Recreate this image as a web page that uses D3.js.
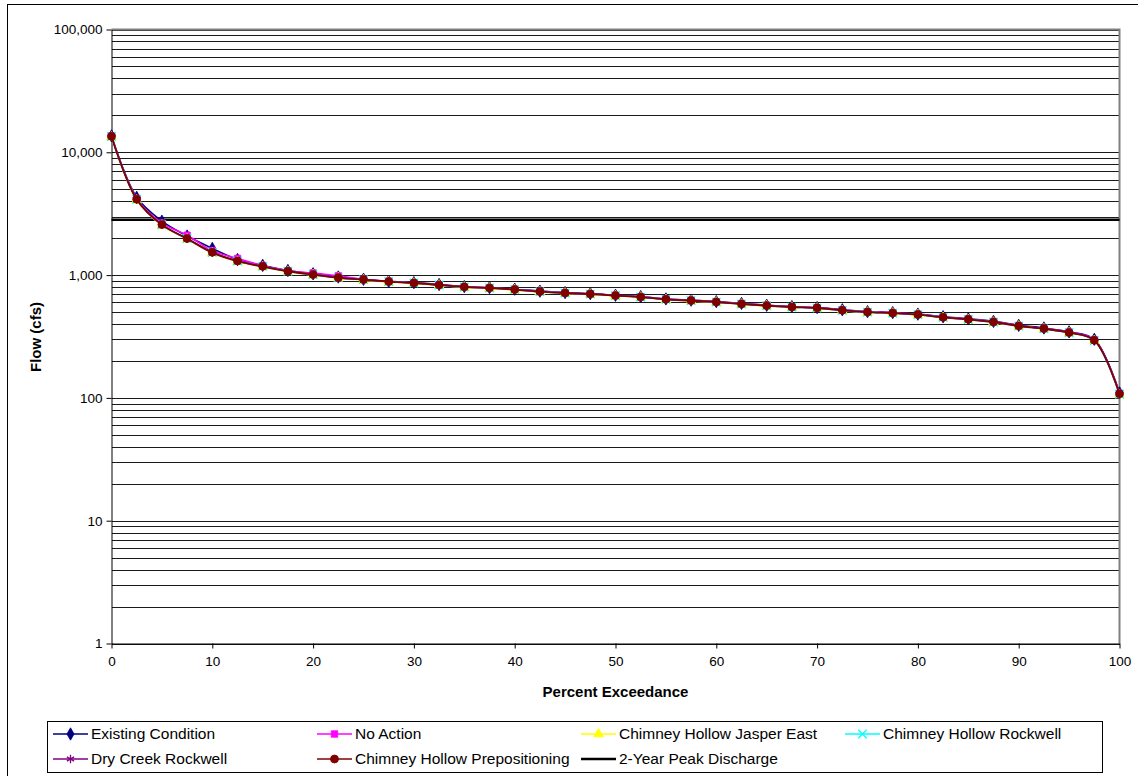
<!DOCTYPE html>
<html>
<head>
<meta charset="utf-8">
<script src="https://cdn.jsdelivr.net/npm/d3@7"></script>
<style>
  body { margin: 0; background: #fff; }
  svg { display: block; font-family: "Liberation Sans", Arial, sans-serif; }
</style>
</head>
<body>
<div id="holder"></div>
<script>
const w = 1138;
const h = 776;

// DATA
const percent = [0, 2.5, 5, 7.5, 10, 12.5, 15, 17.5, 20, 22.5, 25, 27.5, 30, 32.5, 35, 37.5, 40, 42.5, 45, 47.5,
    50, 52.5, 55, 57.5, 60, 62.5, 65, 67.5, 70, 72.5, 75, 77.5, 80, 82.5, 85, 87.5, 90, 92.5, 95, 97.5, 100];

const existingCondition = [13600, 4300, 2750, 2080, 1650, 1340, 1200, 1090, 1025, 965, 925, 890, 868, 838, 806, 790, 768, 740, 720, 706,
    685, 668, 640, 625, 608, 588, 568, 554, 544, 522, 504, 495, 481, 458, 440, 420, 390, 371, 345, 300, 110];
const noAction = [13550, 4200, 2650, 2110, 1580, 1365, 1195, 1085, 1040, 985, 925, 890, 866, 835, 804, 789, 766, 737, 718, 705,
    684, 666, 638, 623, 607, 586, 567, 553, 543, 520, 503, 494, 480, 456, 439, 418, 388, 369, 343, 297, 109];
const jasperEast = [13300, 4080, 2540, 1960, 1510, 1285, 1165, 1065, 1000, 945, 910, 878, 855, 824, 795, 780, 757, 728, 710, 697,
    676, 658, 630, 615, 600, 578, 560, 546, 536, 513, 497, 488, 474, 450, 433, 412, 383, 364, 338, 292, 106];
const chRockwell = [13450, 4140, 2570, 1985, 1530, 1300, 1178, 1075, 1010, 953, 918, 885, 862, 830, 800, 785, 762, 733, 714, 701,
    680, 662, 634, 619, 603, 581, 563, 549, 539, 516, 499, 490, 476, 452, 435, 414, 384, 365, 339, 293, 107];
const dryCreekRockwell = [13400, 4120, 2560, 1975, 1520, 1295, 1172, 1072, 1006, 950, 916, 884, 861, 829, 799, 784, 761, 732, 713, 700,
    679, 661, 633, 618, 602, 580, 562, 548, 538, 515, 498, 489, 475, 451, 434, 413, 384, 365, 339, 294, 107];
const chPrepositioning = [13500, 4150, 2580, 1990, 1535, 1305, 1180, 1077, 1012, 955, 920, 887, 864, 832, 802, 787, 764, 735, 716, 703,
    682, 664, 636, 621, 605, 583, 565, 551, 541, 518, 501, 492, 478, 454, 437, 416, 386, 367, 341, 295, 108];

const peakDischarge = 2820;

const seriesNames = ["Existing Condition", "No Action", "Chimney Hollow Jasper East", "Chimney Hollow Rockwell",
    "Dry Creek Rockwell", "Chimney Hollow Prepositioning"];
const seriesValues = [existingCondition, noAction, jasperEast, chRockwell, dryCreekRockwell, chPrepositioning];
const seriesColors = ["#000080", "#ff00ff", "#ffff00", "#00ffff", "#800080", "#800000"];
const seriesMarkers = ["diamond", "square", "triangle", "x", "star", "circle"];

const xTicks = [0, 10, 20, 30, 40, 50, 60, 70, 80, 90, 100];
const yTicks = [1, 10, 100, 1000, 10000, 100000];

// CREATE SVG
const svg = d3.select("#holder")
    .append("svg")
    .attr("width", w)
    .attr("height", h);

// OUTER BORDER
svg.append("rect")
    .attr("x", 7.5).attr("y", 4.5)
    .attr("width", w + 20).attr("height", h + 20)
    .attr("fill", "none").attr("stroke", "#000");

// SCALES
const xScale = d3.scaleLinear().domain([0, 100]).range([111.5, 1119.5]);
const yScale = d3.scaleLog().domain([1, 100000]).range([643.5, 29.5]);

// GRIDLINES
svg.append("g")
    .selectAll("line")
    .data(yScale.ticks())
    .enter()
    .append("line")
    .attr("x1", xScale(0)).attr("x2", xScale(100))
    .attr("y1", d => Math.round(yScale(d)) + 0.5)
    .attr("y2", d => Math.round(yScale(d)) + 0.5)
    .attr("stroke", "#1a1a1a")
    .attr("shape-rendering", "crispEdges");

// PLOT BORDER (top / right)
svg.append("path")
    .attr("d", `M${xScale(0)},${yScale(100000)}H${xScale(100)}V${yScale(1)}`)
    .attr("fill", "none")
    .attr("stroke", "#808080")
    .attr("stroke-width", 2);

// X AXIS
const xAxis = d3.axisBottom(xScale).tickValues(xTicks).tickSize(5).tickSizeOuter(0);
const gx = svg.append("g")
    .attr("transform", "translate(0," + yScale(1) + ")")
    .call(xAxis);
gx.select(".domain").attr("stroke", "#000");
gx.selectAll("text").attr("font-size", 13.5).attr("font-family", null).attr("dy", "1.05em").attr("fill", "#000");

// Y AXIS
const yAxis = d3.axisLeft(yScale).tickValues(yTicks).tickFormat(d3.format(",")).tickSize(5).tickSizeOuter(0);
const gy = svg.append("g")
    .attr("transform", "translate(" + xScale(0) + ",0)")
    .call(yAxis);
gy.select(".domain").attr("stroke", "#000");
gy.selectAll("text").attr("font-size", 13.5).attr("font-family", null).attr("x", -9).attr("fill", "#000");

// AXIS TITLES
svg.append("text")
    .attr("x", (xScale(0) + xScale(100)) / 2)
    .attr("y", 697)
    .attr("text-anchor", "middle")
    .attr("font-weight", "bold")
    .attr("font-size", 15)
    .text("Percent Exceedance");

svg.append("text")
    .attr("transform", "translate(41,337) rotate(-90)")
    .attr("text-anchor", "middle")
    .attr("font-weight", "bold")
    .attr("font-size", 15)
    .text("Flow (cfs)");

// MARKERS
const symbolTypes = {
    diamond: d3.symbolDiamond,
    square: d3.symbolSquare,
    triangle: d3.symbolTriangle,
    x: d3.symbolX,
    star: d3.symbolAsterisk,
    circle: d3.symbolCircle
};
function drawMarker(g, type, color, cx, cy) {
    const open = type === "x" || type === "star";
    const size = type === "diamond" ? 44 : type === "circle" ? 50 : type === "square" ? 42 : type === "triangle" ? 42 : 48;
    g.append("path")
        .attr("transform", `translate(${cx},${cy})`)
        .attr("d", d3.symbol().type(symbolTypes[type]).size(size)())
        .attr("fill", open ? "none" : color)
        .attr("stroke", color)
        .attr("stroke-width", open ? 1.3 : 0.8);
}

// PEAK DISCHARGE LINE
svg.append("line")
    .attr("x1", xScale(0)).attr("x2", xScale(100))
    .attr("y1", yScale(peakDischarge)).attr("y2", yScale(peakDischarge))
    .attr("stroke", "#000")
    .attr("stroke-width", 2.5);

// SERIES
const line = d3.line()
    .x((d, i) => xScale(percent[i]))
    .y(d => yScale(d))
    .curve(d3.curveCatmullRom);

seriesValues.forEach((vals, s) => {
    const g = svg.append("g");
    g.append("path")
        .attr("d", line(vals))
        .attr("fill", "none")
        .attr("stroke", seriesColors[s])
        .attr("stroke-width", 1.6);
    vals.forEach((v, i) => drawMarker(g, seriesMarkers[s], seriesColors[s], xScale(percent[i]), yScale(v)));
});

// LEGEND
const legend = svg.append("g");
legend.append("rect")
    .attr("x", 47.5).attr("y", 721.5)
    .attr("width", 1055).attr("height", 51)
    .attr("fill", "#fff").attr("stroke", "#000");

const legendItems = seriesNames.map((n, i) => ({ name: n, color: seriesColors[i], marker: seriesMarkers[i], width: 1.6 }));
legendItems.push({ name: "2-Year Peak Discharge", color: "#000", marker: null, width: 2.5 });

legendItems.forEach((d, i) => {
    const col = i % 4;
    const row = Math.floor(i / 4);
    const lx = 53 + col * 264;
    const ly = 734 + row * 25;
    const g = legend.append("g");
    g.append("line")
        .attr("x1", lx).attr("x2", lx + 35)
        .attr("y1", ly).attr("y2", ly)
        .attr("stroke", d.color)
        .attr("stroke-width", d.width);
    if (d.marker) drawMarker(g, d.marker, d.color, lx + 17.5, ly);
    g.append("text")
        .attr("x", lx + 38)
        .attr("y", ly)
        .attr("dy", "0.35em")
        .attr("font-size", 15.5)
        .text(d.name);
});
</script>
</body>
</html>
